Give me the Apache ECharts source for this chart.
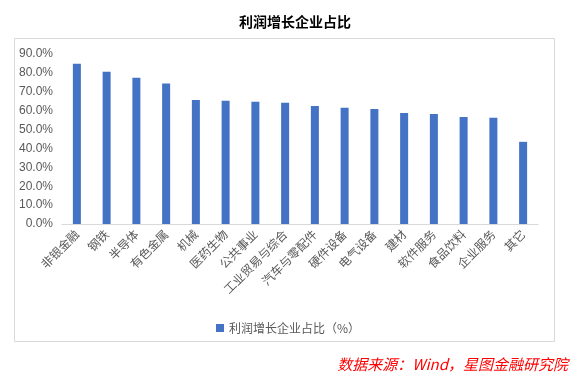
<!DOCTYPE html>
<html><head><meta charset="utf-8">
<script src="https://cdn.jsdelivr.net/npm/echarts@6/dist/echarts.min.js"></script>
<style>html,body{margin:0;padding:0;background:#fff}#c{width:573px;height:381px}</style>
</head><body><div id="c"></div>
<script>
var categories = ["非银金融","钢铁","半导体","有色金属","机械","医药生物","公共事业","工业贸易与综合","汽车与零配件","硬件设备","电气设备","建材","软件服务","食品饮料","企业服务","其它"];
var values = [0.848, 0.806, 0.774, 0.744, 0.657, 0.652, 0.647, 0.642, 0.625, 0.615, 0.609, 0.588, 0.583, 0.567, 0.562, 0.435];
var seriesName = "利润增长企业占比（%）";
var titleText = "利润增长企业占比";
var sourceText = "数据来源：Wind，星图金融研究院";
var FF = "Noto Sans CJK SC";
var chart = echarts.init(document.getElementById('c'), null, {renderer:'canvas'});
chart.setOption({
  animation:false,
  backgroundColor:'#fff',
  textStyle:{fontFamily:FF},
  title:{text:titleText,left:290,textAlign:'center',top:10,textStyle:{fontSize:14,fontWeight:'bold',color:'#000',fontFamily:FF}},
  graphic:[
    {type:'rect',shape:{x:14.5,y:38.5,width:540,height:303},style:{fill:'none',stroke:'#d9d9d9',lineWidth:1},z:-1},
    {type:'text',right:5,top:357,style:{text:sourceText,fill:'#ff0000',font:'italic 15px "'+FF+'"'}}
  ],
  grid:{left:62,right:35,top:54,bottom:157},
  legend:{data:[seriesName],left:211,top:317,itemWidth:8,itemHeight:8,icon:'rect',textStyle:{fontSize:12,color:'#595959',fontFamily:FF}},
  xAxis:{type:'category',data:categories,axisLine:{lineStyle:{color:'#d9d9d9'}},axisTick:{show:false},
    axisLabel:{rotate:45,interval:0,fontSize:12,color:'#595959',margin:8,fontFamily:FF}},
  yAxis:{type:'value',min:0,max:0.9,interval:0.1,axisLine:{show:false},axisTick:{show:false},splitLine:{show:false},
    axisLabel:{fontSize:12,color:'#595959',margin:9,fontFamily:"Liberation Sans",formatter:function(v){return (v*100).toFixed(1)+'%';}}},
  series:[{name:seriesName,type:'bar',data:values,barWidth:8,itemStyle:{color:'#4472c4'}}]
});
</script></body></html>
